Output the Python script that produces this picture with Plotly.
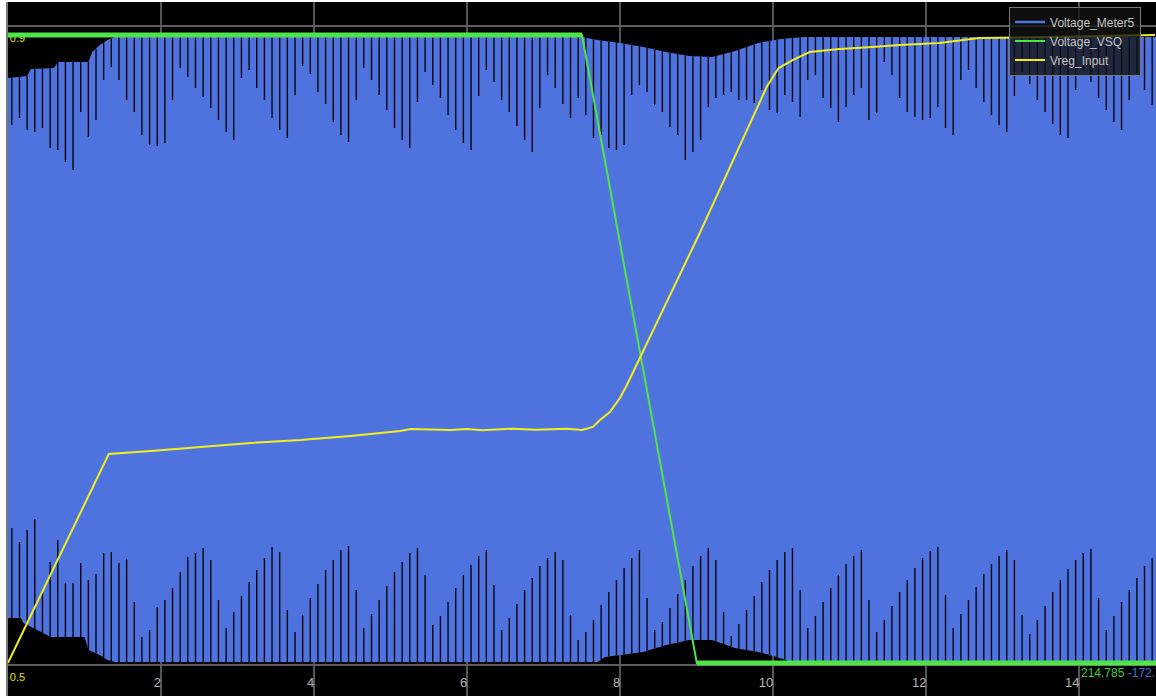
import numpy as np
import plotly.graph_objects as go

# ---------------- axes ----------------
x_ticks = [2, 4, 6, 8, 10, 12, 14]
x_tick_labels = ["2", "4", "6", "8", "10", "12", "14"]
vreg_grid = [0.5, 0.9]
vreg_grid_labels = ["0.5", "0.9"]

# ---------------- Voltage_Meter5 (V) : waveform envelope ----------------
env_top_t = [0, 0.25, 0.3, 0.6, 0.65, 1.05, 1.1, 1.2, 1.3, 1.4, 7.5, 7.7, 8.0, 8.3,
             8.6, 8.9, 9.2, 9.5, 9.8, 10.1, 10.4, 15]
env_top_v = [271, 273, 280, 281, 287, 287, 297, 304, 309, 312, 312, 309, 306, 302,
             297, 293, 292, 298, 306, 310, 312, 312]
env_bot_t = [0, 0.17, 0.2, 0.37, 0.56, 1.0, 1.05, 1.2, 1.3, 1.4, 7.7, 7.8, 8.0, 8.3,
             8.6, 8.9, 9.2, 9.5, 9.8, 10.0, 10.2, 10.4, 15]
env_bot_v = [-269, -269, -274, -281, -288, -288, -301, -306, -311, -313, -313, -308,
             -306, -303, -296, -291, -291, -299, -303, -307, -312, -313, -313]

# dips of the dense waveform (one every 0.1 s, starting at 0.05 s)
dip_start, dip_step = 0.05, 0.1
dip_top_v = [224, 231, 219, 217, 221, 201, 199, 187, 179, 237, 212, 229, 269, 282, 269,
             249, 237, 214, 204, 203, 206, 249, 281, 272, 261,
             252, 241, 229, 217, 209, 271, 279, 261, 249, 231,
             219, 211, 254, 283, 275, 257, 245, 227, 214, 207,
             249, 281, 269, 254, 239, 221, 209, 201, 247, 277,
             264, 251, 234, 219, 206, 199, 253, 279, 267, 249,
             237, 223, 209, 197, 241, 274, 261, 245, 231, 251,
             234, 211, 214, 201, 199, 204, 254, 264, 257, 244, 237, 222, 214, 189, 197,
             209, 242, 251, 254, 257, 249, 249, 246, 259, 239, 236, 254, 247, 232, 269,
             274, 251, 241, 227, 242, 254, 261, 229, 236, 287, 274, 251, 237, 232, 229,
             231, 242, 221, 214, 269,
             279, 261, 247, 234, 224, 217, 253, 277, 265, 249, 237, 225, 214, 211, 259,
             279, 267, 251, 239, 227, 219, 249, 275, 259, 244]
dip_bot_v = [-179, -193, -181, -170, -243, -213, -191, -234, -234, -214, -231, -225, -204,
             -203, -214, -210, -253, -288, -281, -258, -251, -239, -223, -208, -204,
             -199, -211, -251, -279, -263, -247, -233, -221, -209, -198,
             -203, -261, -283, -266, -249, -235, -221, -211, -201, -197,
             -241, -279, -265, -251, -237, -223, -213, -204, -199, -226,
             -276, -267, -253, -239, -226, -216, -207, -201, -236, -281,
             -269, -255, -241, -229, -217, -209, -203, -211, -266, -291,
             -283, -271, -256, -243, -231, -219, -209, -201, -249, -281, -273, -259, -245,
             -231, -217, -207, -199, -211, -263, -287, -275, -261, -247, -233, -221, -211,
             -203, -199, -241, -279,
             -267, -253, -239, -226, -215, -207, -201, -251, -283, -271, -257, -243, -231,
             -219, -209, -202, -198, -246, -279, -265,
             -251, -238, -225, -215, -207, -201, -211, -266, -285, -271, -257, -243, -231,
             -220, -211, -204, -200, -249, -281, -267, -253, -241, -229, -217, -209]

# ---------------- Voltage_VSQ (pu) ----------------
vsq_t = [0.0, 7.5, 9.0, 15.0]
vsq_v = [1.0, 1.0, 0.0, 0.0]

# ---------------- Vreg_Input (pu) ----------------
vreg_t = [0.0, 1.317, 1.865, 2.517, 3.170, 3.822, 4.474, 5.126, 5.256, 5.778, 6.0, 6.2,
          6.43, 6.6, 6.9, 7.082, 7.3, 7.5, 7.643, 7.735, 7.865, 7.996, 8.087, 9.039,
          9.717, 9.913, 10.069, 10.252, 10.474, 10.865, 11.295, 11.647, 12.169,
          12.691, 13.604, 14.986]
vreg_v = [0.5013, 0.6321, 0.6340, 0.6365, 0.6390, 0.6408, 0.6433, 0.6465, 0.6477,
          0.6471, 0.6478, 0.6470, 0.6477, 0.6479, 0.6472, 0.6477, 0.6479, 0.6471,
          0.6490, 0.6534, 0.6584, 0.6671, 0.6753, 0.7704, 0.8412, 0.8618, 0.8737,
          0.8787, 0.8837, 0.8856, 0.8869, 0.8881, 0.8894, 0.8925, 0.8931, 0.8944]

BLUE = "#4e73df"
GREEN = "#4ee44a"
YELLOW = "#f2ee1e"
FONT = "Liberation Sans"

fig = go.Figure()

# waveform band
fig.add_trace(go.Scatter(
    x=env_top_t + env_bot_t[::-1], y=env_top_v + env_bot_v[::-1],
    fill="toself", fillcolor=BLUE, line=dict(width=0), mode="lines",
    yaxis="y", showlegend=False, hoverinfo="skip"))

# dark gaps of the dense waveform
dip_t = dip_start + dip_step * np.arange(len(dip_top_v))
top_edge = np.interp(dip_t, env_top_t, env_top_v)
bot_edge = np.interp(dip_t, env_bot_t, env_bot_v)
gx, gy = [], []
for t, e, v in zip(dip_t, top_edge, dip_top_v):
    gx += [t, t, None]
    gy += [e, min(v, e), None]
for t, e, v in zip(dip_t, bot_edge, dip_bot_v):
    gx += [t, t, None]
    gy += [e, max(v, e), None]
fig.add_trace(go.Scatter(x=gx, y=gy, mode="lines", yaxis="y",
                         line=dict(color="#05070f", width=1.4),
                         showlegend=False, hoverinfo="skip"))

# legend entry of the waveform
fig.add_trace(go.Scatter(x=[None], y=[None], mode="lines", name="Voltage_Meter5",
                         line=dict(color=BLUE, width=2.5), legendrank=1))

# Voltage_VSQ
fig.add_trace(go.Scatter(x=vsq_t, y=vsq_v, mode="lines", name="Voltage_VSQ",
                         yaxis="y2", line=dict(color=GREEN, width=2), legendrank=2))
for seg in (slice(0, 2), slice(-2, None)):
    fig.add_trace(go.Scatter(x=vsq_t[seg], y=vsq_v[seg], mode="lines", yaxis="y2",
                             line=dict(color=GREEN, width=5), showlegend=False,
                             hoverinfo="skip"))

# Vreg_Input
fig.add_trace(go.Scatter(x=vreg_t, y=vreg_v, mode="lines", name="Vreg_Input",
                         yaxis="y3", line=dict(color=YELLOW, width=2), legendrank=3))

fig.update_layout(
    width=1156, height=696,
    margin=dict(l=8, r=0, t=2, b=0, pad=0),
    paper_bgcolor="white", plot_bgcolor="black",
    font=dict(family=FONT),
    xaxis=dict(range=[0, 15], tickvals=x_ticks, ticktext=x_tick_labels,
               showgrid=True, gridcolor="#555555", gridwidth=2, zeroline=False,
               showline=False, ticks="", ticklabelposition="inside left",
               tickfont=dict(color="#b4b4b4", size=13, family=FONT)),
    yaxis=dict(range=[-347, 347], visible=False, showgrid=False, zeroline=False),
    yaxis2=dict(range=[-0.05255, 1.05255], overlaying="y", visible=False,
                showgrid=False, zeroline=False),
    yaxis3=dict(range=[0.48059, 0.91502], overlaying="y", side="left",
                tickvals=vreg_grid, ticktext=vreg_grid_labels, showgrid=True,
                gridcolor="#5e5e5e", gridwidth=2, zeroline=False, ticks="",
                ticklabelposition="inside bottom", ticklabelshift=4,
                layer="below traces",
                showline=True, linecolor="#7a7a7a", linewidth=2,
                tickfont=dict(color="#e0e000", size=11, family=FONT)),
    legend=dict(x=0.872, y=0.9438, xanchor="left", yanchor="middle",
                bgcolor="rgba(18,18,18,0.78)", bordercolor="#777777", borderwidth=1,
                font=dict(color="#c4c4c4", size=12, family=FONT),
                tracegroupgap=0),
    annotations=[dict(
        x=14.0, y=0.033, xref="x", yref="paper", xanchor="left", yanchor="middle",
        showarrow=False, font=dict(size=12, family=FONT),
        text="<span style='color:#3ccf3c'>214.785</span> "
             "<span style='color:#4a6fdc'>-172.716</span>")],
)

fig.write_html("out.html")
